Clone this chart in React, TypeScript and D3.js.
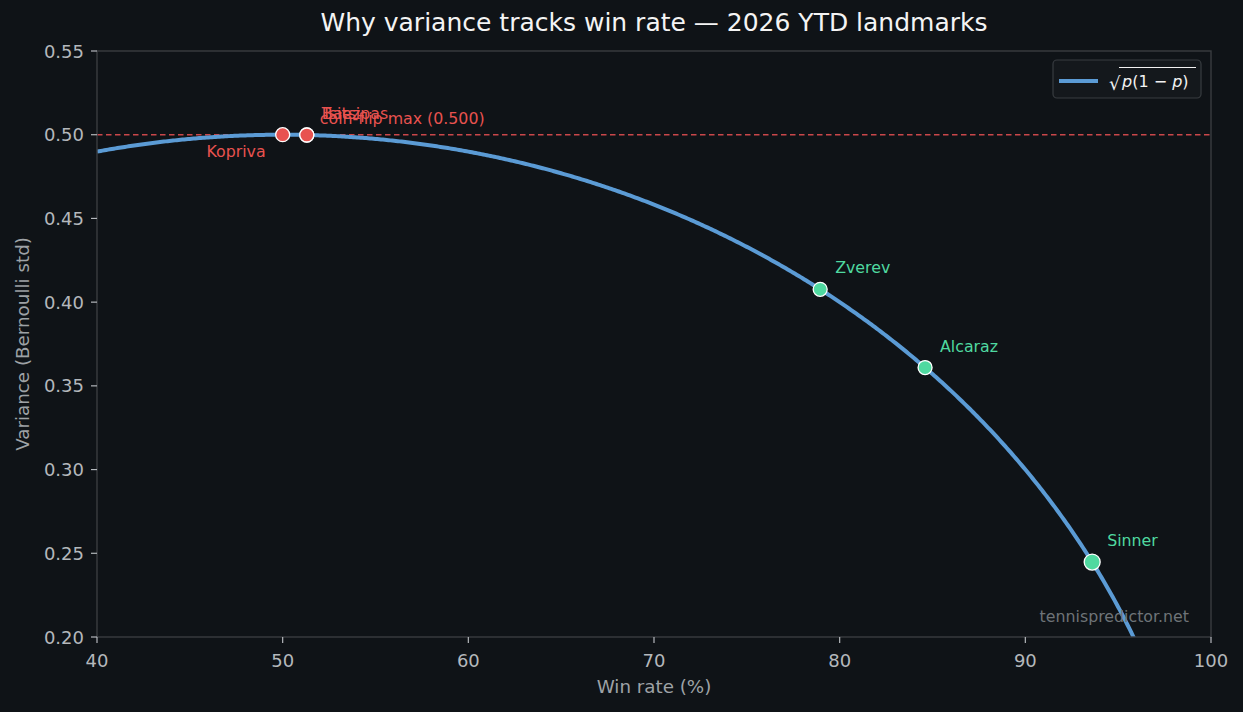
import React from "react";
import * as d3 from "d3";

const W = 1243;
const H = 712;
const M = { left: 97, right: 1211, top: 51, bottom: 637 };

const xTicks = [40, 50, 60, 70, 80, 90, 100];
const yTicks = [0.2, 0.25, 0.3, 0.35, 0.4, 0.45, 0.5, 0.55];

const playerNames = ["Kopriva", "Baez", "Tsitsipas", "Zverev", "Alcaraz", "Sinner"];
const playerWinRates = [50.0, 51.3, 51.3, 78.95, 84.6, 93.6];
const playerGroups = ["low", "low", "low", "high", "high", "high"];
const labelSides = ["below", "above", "above", "above", "above", "above"];

const titleText = "Why variance tracks win rate — 2026 YTD landmarks";
const xLabel = "Win rate (%)";
const yLabel = "Variance (Bernoulli std)";
const coinFlipLabel = "coin-flip max (0.500)";
const watermark = "tennispredictor.net";

const BG = "#0f1317";
const FONT = "'DejaVu Sans', sans-serif";

export default function App() {
  const x = d3.scaleLinear().domain([40, 100]).range([M.left, M.right]);
  const y = d3.scaleLinear().domain([0.2, 0.55]).range([M.bottom, M.top]);
  const std = (p: number) => Math.sqrt((p / 100) * (1 - p / 100));

  const curvePts = d3.range(40, 100.001, 0.1).map((p) => [p, std(p)] as [number, number]);
  const line = d3
    .line<[number, number]>()
    .x((d) => x(d[0]))
    .y((d) => y(d[1]));

  const pts = playerNames.map((n, i) => ({
    name: n,
    p: playerWinRates[i],
    v: std(playerWinRates[i]),
    group: playerGroups[i],
    side: labelSides[i],
  }));

  const red = "#e8524f";
  const green = "#4fd9a0";
  const tickColor = "#b4b8bc";
  const labelColor = "#9ea2a6";
  const spine = "#3a3d40";
  const annSize = 15.8;
  const tickSize = 18;

  return (
    <div style={{ position: "fixed", left: 0, top: 0 }}>
      <svg width={W} height={H} style={{ display: "block", background: BG }} fontFamily={FONT}>
        <defs>
          <clipPath id="plotclip">
            <rect x={M.left} y={M.top} width={M.right - M.left} height={M.bottom - M.top} />
          </clipPath>
        </defs>
        <rect width={W} height={H} fill={BG} />
        <text x={(M.left + M.right) / 2} y={31} textAnchor="middle" fill="#f4f4f4" fontSize={25}>
          {titleText}
        </text>

        {/* coin flip line */}
        <line
          x1={M.left}
          x2={M.right}
          y1={y(0.5)}
          y2={y(0.5)}
          stroke="#c9474a"
          strokeWidth={1.4}
          strokeDasharray="5.5,3.5"
        />

        <path
          d={line(curvePts) || ""}
          fill="none"
          stroke="#5b9bd5"
          strokeWidth={4}
          clipPath="url(#plotclip)"
        />

        <text x={x(52)} y={124} fill="#e8524f" fontSize={annSize}>
          {coinFlipLabel}
        </text>

        {pts.map((d) => (
          <circle
            key={d.name}
            cx={x(d.p)}
            cy={y(d.v)}
            r={d.name === "Sinner" ? 8 : 7}
            fill={d.group === "low" ? red : green}
            stroke="#ffffff"
            strokeWidth={1.3}
          />
        ))}
        {pts.map((d) =>
          d.side === "below" ? (
            <text
              key={"l" + d.name}
              x={x(d.p) - 17}
              y={y(d.v) + 22}
              textAnchor="end"
              fill={d.group === "low" ? red : green}
              fontSize={annSize}
            >
              {d.name}
            </text>
          ) : (
            <text
              key={"l" + d.name}
              x={x(d.p) + 15}
              y={y(d.v) - 16}
              fill={d.group === "low" ? red : green}
              fontSize={annSize}
            >
              {d.name}
            </text>
          )
        )}

        <text x={1189} y={622} textAnchor="end" fill="#6e7378" fontSize={15.8}>
          {watermark}
        </text>

        {/* spines */}
        <rect
          x={M.left}
          y={M.top}
          width={M.right - M.left}
          height={M.bottom - M.top}
          fill="none"
          stroke={spine}
          strokeWidth={1.4}
        />

        {/* x axis */}
        {xTicks.map((t) => (
          <g key={"x" + t}>
            <line x1={x(t)} x2={x(t)} y1={M.bottom} y2={M.bottom + 6} stroke={tickColor} strokeWidth={1.2} />
            <text x={x(t)} y={667} textAnchor="middle" fill={tickColor} fontSize={tickSize}>
              {t}
            </text>
          </g>
        ))}
        {yTicks.map((t) => (
          <g key={"y" + t}>
            <line x1={M.left - 6} x2={M.left} y1={y(t)} y2={y(t)} stroke={tickColor} strokeWidth={1.2} />
            <text x={84} y={y(t) + 6.5} textAnchor="end" fill={tickColor} fontSize={tickSize}>
              {t.toFixed(2)}
            </text>
          </g>
        ))}
        <text x={(M.left + M.right) / 2} y={693} textAnchor="middle" fill={labelColor} fontSize={18.3}>
          {xLabel}
        </text>
        <text
          transform={`translate(29, ${(M.top + M.bottom) / 2}) rotate(-90)`}
          textAnchor="middle"
          fill={labelColor}
          fontSize={18.3}
        >
          {yLabel}
        </text>

        {/* legend */}
        <g>
          <rect x={1053} y={60} width={148} height={38} rx={4} fill="#14181c" stroke="#383c40" strokeWidth={1.2} />
          <line x1={1059} x2={1098} y1={81} y2={81} stroke="#5b9bd5" strokeWidth={4} />
          <text x={1109} y={90} fill="#f2f2f2" fontSize={18}>
            √
          </text>
          <line x1={1119} x2={1196} y1={67.5} y2={67.5} stroke="#f2f2f2" strokeWidth={1.2} />
          <text x={1122} y={87} fill="#f2f2f2" fontSize={16}>
            <tspan fontStyle="italic">p</tspan>
            <tspan>(1 − </tspan>
            <tspan fontStyle="italic">p</tspan>
            <tspan>)</tspan>
          </text>
        </g>
      </svg>
    </div>
  );
}
